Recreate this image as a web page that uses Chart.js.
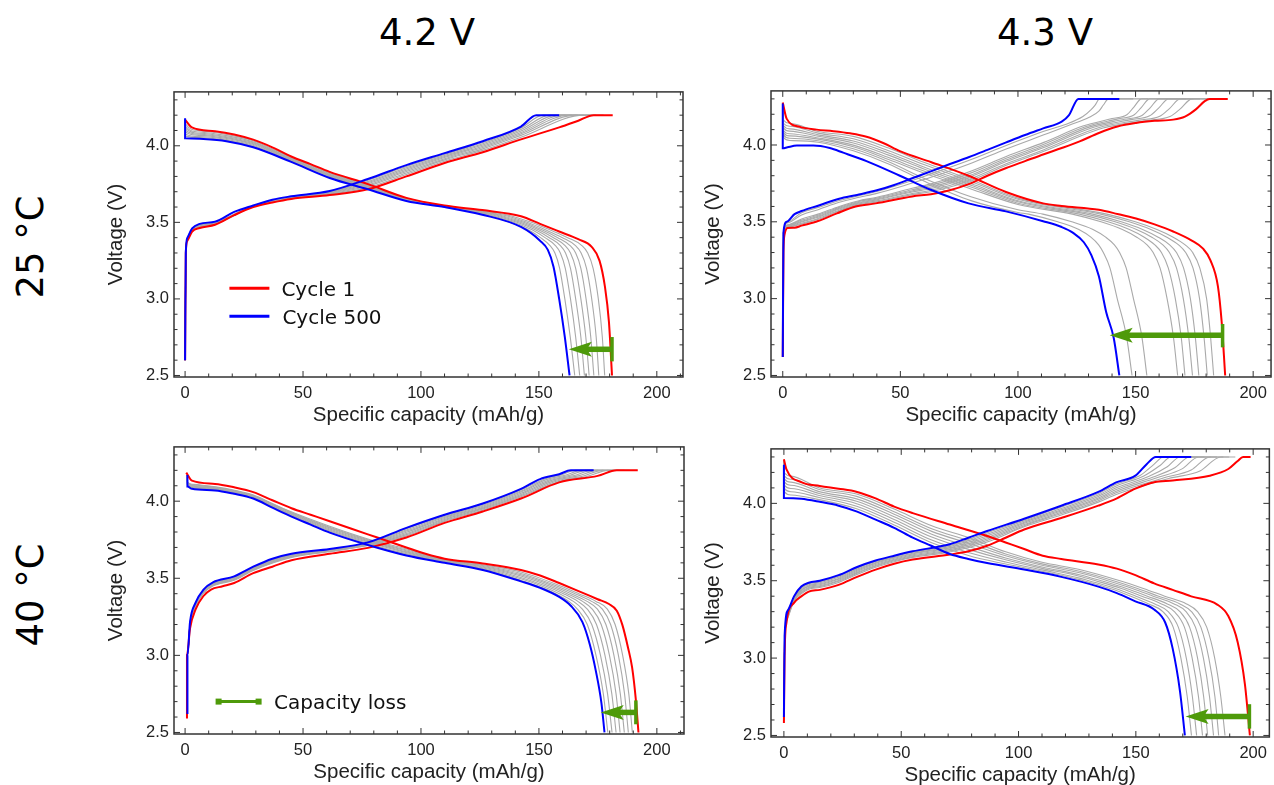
<!DOCTYPE html>
<html>
<head>
<meta charset="utf-8">
<title>Charge / discharge curves</title>
<script src="https://cdn.jsdelivr.net/npm/chart.js@4.4.1/dist/chart.umd.min.js"></script>
<style>
  body { margin: 0; background: #fff; }
  #page { position: relative; width: 1274px; height: 785px; overflow: hidden; background: #fff; }
  #page canvas { position: absolute; }
  .head, .side {
    position: absolute;
    font-family: "DejaVu Sans", sans-serif;
    font-size: 37px;
    line-height: 37px;
    color: #000;
    white-space: nowrap;
  }
  .head { transform: translateX(-50%); }
  .side { transform: translate(-50%, -50%) rotate(-90deg); }
</style>
</head>
<body>
<div id="page">
  <div class="head" style="left:427px; top:14px">4.2 V</div>
  <div class="head" style="left:1045px; top:14px">4.3 V</div>
  <div class="side" style="left:30px; top:247px">25 °C</div>
  <div class="side" style="left:30px; top:595px">40 °C</div>
  <canvas id="p1" width="581" height="351" style="left:104px; top:77px"></canvas>
  <canvas id="p2" width="573" height="352" style="left:701px; top:76px"></canvas>
  <canvas id="p3" width="582" height="353" style="left:104px; top:432px"></canvas>
  <canvas id="p4" width="573" height="354" style="left:701px; top:434px"></canvas>
</div>
<script>
// ---- axes ----
const xTickValues = [0, 50, 100, 150, 200];
const yTickValues = [2.5, 3.0, 3.5, 4.0];
const xMin = [-4.7, -5, -4.7, -5.5];
const xMax = [211.1, 207.6, 211.5, 206.9];
const yMin = 2.49;
const yMax = 4.352;

// ---- capacity loss arrows (mAh/g, V) ----
const lossFrom = [181, 187, 191.1, 198.4];
const lossTo = [162.7, 139, 176.2, 171.2];
const lossV = [2.671, 2.761, 2.63, 2.623];
const lossBarLo = [2.592, 2.683, 2.553, 2.544];
const lossBarHi = [2.751, 2.835, 2.708, 2.702];

// ---- panel 1 : 25 °C, 4.2 V  ([capacity, voltage]) ----
const p1_dis1 = [[0,4.17],[2.9,4.12],[12.7,4.095],[20.8,4.074],[28.9,4.04],[37,3.99],[45,3.93],[53.2,3.88],[61.3,3.83],[77.5,3.75],[93.8,3.66],[110,3.61],[126,3.58],[142.4,3.54],[150.5,3.49],[158.6,3.44],[166.7,3.39],[172.4,3.34],[175.7,3.25],[178,3.08],[179.7,2.85],[181,2.5]];
const p1_dis500 = [[0,4.18],[0,4.05],[6.2,4.046],[17.5,4.03],[28.9,3.99],[45,3.895],[61.3,3.79],[77.5,3.716],[93.8,3.64],[110,3.6],[126,3.55],[142.4,3.47],[150.5,3.38],[153.8,3.32],[156.2,3.21],[158.6,3.0],[161,2.75],[163,2.5]];
const p1_chg1 = [[0,2.6],[0.3,3.3],[1,3.38],[3,3.44],[6.2,3.463],[12.7,3.484],[20.8,3.547],[28.9,3.6],[37,3.63],[45,3.653],[61.3,3.678],[77.5,3.716],[93.8,3.8],[110,3.888],[126.2,3.958],[142.4,4.042],[158.6,4.12],[166.7,4.164],[173.2,4.2],[181.3,4.2]];
const p1_chg500 = [[0,2.6],[0.3,3.3],[1,3.4],[3,3.46],[6.2,3.49],[12.7,3.505],[20.8,3.568],[28.9,3.61],[37,3.648],[45,3.67],[61.3,3.705],[77.5,3.783],[93.8,3.874],[110,3.952],[126.2,4.03],[142.4,4.126],[148.9,4.2],[158.6,4.2]];
const p1_disMid = [
  [[0,4.17],[0.3,4.063],[6,4.054],[17,4.037],[29,3.996],[45,3.899],[61,3.797],[77.5,3.72],[94,3.642],[110,3.601],[127.4,3.55],[137.7,3.5],[145.7,3.45],[150.7,3.4],[154.6,3.35],[156.8,3.3],[158.8,3.2],[161,3.0],[163.3,2.75],[165.2,2.5]],
  [[0,4.17],[0.3,4.076],[6,4.061],[17,4.043],[29,4.002],[45,3.903],[61,3.802],[77.5,3.724],[94,3.645],[110,3.602],[128.9,3.55],[139.3,3.5],[147.3,3.45],[152.6,3.4],[156.9,3.35],[159.1,3.3],[161.2,3.2],[163.4,3.0],[165.6,2.75],[167.3,2.5]],
  [[0,4.17],[0.3,4.089],[6,4.068],[17,4.049],[29,4.008],[45,3.907],[61,3.806],[77.5,3.728],[94,3.647],[110,3.604],[130.2,3.55],[140.7,3.5],[148.7,3.45],[154.4,3.4],[159,3.35],[161.3,3.3],[163.4,3.2],[165.6,3.0],[167.8,2.75],[169.3,2.5]],
  [[0,4.17],[0.3,4.101],[6,4.075],[17,4.055],[29,4.013],[45,3.911],[61,3.81],[77.5,3.732],[94,3.649],[110,3.605],[131.5,3.55],[142.1,3.5],[150.1,3.45],[156.2,3.4],[161,3.35],[163.4,3.3],[165.6,3.2],[167.8,3.0],[169.9,2.75],[171.3,2.5]],
  [[0,4.17],[0.3,4.113],[6,4.082],[17,4.061],[29,4.019],[45,3.915],[61,3.815],[77.5,3.735],[94,3.651],[110,3.606],[132.8,3.55],[143.5,3.5],[151.5,3.45],[158,3.4],[163.1,3.35],[165.6,3.3],[167.8,3.2],[170,3.0],[172,2.75],[173.3,2.5]],
  [[0,4.17],[0.3,4.126],[6,4.09],[17,4.068],[29,4.025],[45,3.919],[61,3.82],[77.5,3.739],[94,3.654],[110,3.607],[134.3,3.55],[145,3.5],[153,3.45],[160,3.4],[165.4,3.35],[167.9,3.3],[170.2,3.2],[172.4,3.0],[174.3,2.75],[175.4,2.5]],
  [[0,4.17],[0.3,4.141],[6,4.099],[17,4.076],[29,4.032],[45,3.924],[61,3.825],[77.5,3.744],[94,3.657],[110,3.608],[136,3.55],[146.8,3.5],[154.8,3.45],[162.2,3.4],[168.1,3.35],[170.7,3.3],[173,3.2],[175.2,3.0],[176.9,2.75],[177.9,2.5]]
];
const p1_chgMid = [
  [[0,2.6],[0.3,3.3],[1,3.398],[3,3.458],[12.7,3.502],[28.9,3.609],[45,3.668],[61.3,3.702],[77.5,3.775],[93.8,3.865],[110,3.944],[126.2,4.021],[142.4,4.116],[151.8,4.2],[161.3,4.2]],
  [[0,2.6],[0.3,3.3],[1,3.395],[3,3.455],[12.7,3.5],[28.9,3.608],[45,3.666],[61.3,3.699],[77.5,3.767],[93.8,3.856],[110,3.937],[126.2,4.013],[142.4,4.106],[154.7,4.2],[164,4.2]],
  [[0,2.6],[0.3,3.3],[1,3.393],[3,3.453],[12.7,3.498],[28.9,3.607],[45,3.664],[61.3,3.696],[77.5,3.76],[93.8,3.848],[110,3.93],[126.2,4.005],[142.4,4.097],[157.4,4.2],[166.5,4.2]],
  [[0,2.6],[0.3,3.3],[1,3.391],[3,3.451],[12.7,3.495],[28.9,3.605],[45,3.662],[61.3,3.693],[77.5,3.752],[93.8,3.84],[110,3.923],[126.2,3.997],[142.4,4.087],[160.1,4.2],[169,4.2]],
  [[0,2.6],[0.3,3.3],[1,3.389],[3,3.449],[12.7,3.493],[28.9,3.604],[45,3.66],[61.3,3.69],[77.5,3.745],[93.8,3.832],[110,3.916],[126.2,3.989],[142.4,4.078],[162.8,4.2],[171.5,4.2]],
  [[0,2.6],[0.3,3.3],[1,3.387],[3,3.446],[12.7,3.491],[28.9,3.603],[45,3.658],[61.3,3.686],[77.5,3.737],[93.8,3.823],[110,3.908],[126.2,3.98],[142.4,4.068],[165.7,4.2],[174.3,4.2]],
  [[0,2.6],[0.3,3.3],[1,3.385],[3,3.443],[12.7,3.488],[28.9,3.602],[45,3.656],[61.3,3.683],[77.5,3.727],[93.8,3.813],[110,3.899],[126.2,3.97],[142.4,4.056],[169.1,4.2],[177.4,4.2]]
];

// ---- panel 2 : 25 °C, 4.3 V ----
const p2_dis1 = [[0,4.276],[1.7,4.17],[7.3,4.118],[14.4,4.1],[21.5,4.09],[28.6,4.076],[35.6,4.054],[42.7,4.013],[49.8,3.96],[63.2,3.888],[79,3.8],[94.9,3.694],[110.7,3.62],[118.6,3.603],[134.4,3.578],[142.3,3.551],[150.2,3.521],[158.1,3.483],[166,3.437],[173.9,3.378],[178.7,3.325],[181.8,3.251],[185,3.082],[186.6,2.85],[188.1,2.5]];
const p2_dis500 = [[0,4.27],[0,3.978],[2,3.985],[6,3.996],[13,3.996],[20,3.98],[25.7,3.95],[35.6,3.895],[49.8,3.8],[63.2,3.707],[79,3.62],[94.9,3.568],[110.7,3.504],[118.6,3.466],[123.3,3.43],[128,3.367],[131.2,3.283],[134.4,3.146],[137.5,2.913],[140.7,2.745],[143.1,2.5]];
const p2_chg1 = [[0,2.62],[0.3,3.3],[0.8,3.42],[2,3.46],[5,3.462],[8,3.475],[15,3.505],[23,3.555],[31,3.6],[39.5,3.62],[55,3.665],[63,3.68],[71,3.705],[79,3.745],[87,3.8],[95,3.85],[103,3.895],[111,3.94],[118.6,3.98],[126.5,4.025],[134.4,4.078],[142.3,4.12],[150.2,4.143],[158.1,4.157],[166,4.165],[171,4.185],[175.5,4.23],[179.4,4.285],[181.5,4.3],[189.2,4.3]];
const p2_chg500 = [[0,2.62],[0.3,3.43],[1.7,3.5],[5,3.55],[8,3.57],[15,3.605],[24,3.65],[31.6,3.675],[40,3.705],[47.4,3.74],[55.3,3.785],[63.2,3.83],[71.1,3.876],[79,3.92],[87,3.968],[95,4.017],[103,4.065],[110.7,4.108],[118.6,4.152],[121.7,4.195],[125.7,4.3],[143.1,4.3]];
const p2_disMid = [
  [[0,4.27],[0.4,4.16],[3,4.141],[15,4.088],[30,4.056],[45,3.98],[60,3.887],[80,3.774],[100,3.654],[137.8,3.55],[149.9,3.5],[159.1,3.45],[166,3.4],[171.1,3.35],[174.3,3.3],[177.3,3.2],[180.2,3.0],[181.9,2.75],[183.2,2.5]],
  [[0,4.27],[0.4,4.14],[3,4.122],[15,4.077],[30,4.04],[45,3.963],[60,3.873],[80,3.763],[100,3.647],[135.2,3.55],[147.3,3.5],[156.5,3.45],[163.3,3.4],[168.3,3.35],[171.3,3.3],[174.4,3.2],[177.2,3.0],[179.1,2.75],[180.5,2.5]],
  [[0,4.27],[0.4,4.125],[3,4.105],[15,4.066],[30,4.026],[45,3.948],[60,3.857],[80,3.749],[100,3.637],[131.8,3.55],[143.9,3.5],[153,3.45],[159.6,3.4],[164.5,3.35],[167.4,3.3],[170.4,3.2],[173.3,3.0],[175.4,2.75],[176.9,2.5]],
  [[0,4.27],[0.4,4.11],[3,4.09],[15,4.057],[30,4.013],[45,3.934],[60,3.844],[80,3.738],[100,3.63],[129.2,3.55],[141.3,3.5],[150.4,3.45],[156.9,3.4],[161.6,3.35],[164.4,3.3],[167.4,3.2],[170.3,3.0],[172.6,2.75],[174.2,2.5]],
  [[0,4.27],[0.4,4.093],[3,4.073],[15,4.046],[30,3.999],[45,3.918],[60,3.83],[80,3.726],[100,3.621],[126.1,3.55],[138.3,3.5],[147.4,3.45],[153.7,3.4],[158.2,3.35],[161,3.3],[163.9,3.2],[166.9,3.0],[169.4,2.75],[171,2.5]],
  [[0,4.27],[0.4,4.079],[3,4.059],[15,4.038],[30,3.988],[45,3.906],[60,3.817],[80,3.714],[100,3.613],[123.1,3.55],[135.3,3.5],[144.4,3.45],[150.5,3.4],[154.9,3.35],[157.5,3.3],[160.4,3.2],[163.4,3.0],[166.1,2.75],[167.9,2.5]],
  [[0,4.27],[0.4,4.064],[3,4.044],[15,4.028],[30,3.975],[45,3.891],[60,3.784],[80,3.663],[100,3.578],[110.6,3.55],[122.9,3.5],[131.9,3.45],[137.3,3.4],[141,3.35],[143.2,3.3],[146,3.2],[149.1,3.0],[152.7,2.75],[154.8,2.5]],
  [[0,4.27],[0.4,4.049],[3,4.029],[15,4.018],[30,3.962],[45,3.877],[60,3.765],[80,3.638],[100,3.561],[104.5,3.55],[116.9,3.5],[125.9,3.45],[131,3.4],[134.3,3.35],[136.3,3.3],[139.1,3.2],[142.2,3.0],[146.2,2.75],[148.5,2.5]]
];
const p2_chgMid = [
  [[0,2.62],[0.3,3.43],[2,3.465],[8,3.485],[15,3.516],[24,3.57],[32,3.61],[40,3.63],[55,3.677],[63,3.696],[79,3.764],[95,3.868],[111,3.959],[136.2,4.11],[155.1,4.16],[164.6,4.185],[169,4.235],[174,4.3],[183.7,4.3]],
  [[0,2.62],[0.3,3.43],[2,3.468],[8,3.491],[15,3.522],[24,3.575],[32,3.615],[40,3.636],[55,3.684],[63,3.705],[79,3.775],[95,3.878],[111,3.969],[134.2,4.112],[151.6,4.162],[160.3,4.187],[164.4,4.237],[169,4.3],[181,4.3]],
  [[0,2.62],[0.3,3.43],[2,3.471],[8,3.499],[15,3.53],[24,3.583],[32,3.621],[40,3.643],[55,3.694],[63,3.717],[79,3.789],[95,3.892],[111,3.983],[132.2,4.115],[148.1,4.165],[156,4.19],[159.8,4.24],[164,4.3],[177.4,4.3]],
  [[0,2.62],[0.3,3.43],[2,3.474],[8,3.504],[15,3.536],[24,3.588],[32,3.625],[40,3.648],[55,3.701],[63,3.726],[79,3.799],[95,3.902],[111,3.993],[130.6,4.118],[145.3,4.167],[152.7,4.192],[156.1,4.24],[160,4.3],[174.7,4.3]],
  [[0,2.62],[0.3,3.43],[2,3.477],[8,3.511],[15,3.543],[24,3.594],[32,3.631],[40,3.654],[55,3.709],[63,3.737],[79,3.812],[95,3.913],[111,4.005],[129,4.12],[142.5,4.17],[149.3,4.195],[152.4,4.243],[156,4.3],[171.5,4.3]],
  [[0,2.62],[0.3,3.43],[2,3.48],[8,3.518],[15,3.55],[24,3.6],[32,3.636],[40,3.66],[55,3.718],[63,3.747],[79,3.824],[95,3.925],[111,4.017],[127.6,4.123],[140,4.172],[146.3,4.197],[149.2,4.245],[152.5,4.3],[168.4,4.3]],
  [[0,2.62],[0.3,3.43],[2,3.493],[8,3.545],[15,3.579],[24,3.627],[32,3.658],[40,3.685],[55,3.752],[63,3.79],[79,3.875],[95,3.974],[111,4.066],[122,4.13],[130.3,4.18],[134.4,4.22],[136.3,4.26],[138.5,4.3],[155.3,4.3]],
  [[0,2.62],[0.3,3.43],[2,3.5],[8,3.559],[15,3.593],[24,3.639],[32,3.668],[40,3.697],[55,3.769],[63,3.811],[79,3.899],[95,3.997],[111,4.09],[120.5,4.135],[127.6,4.185],[131.1,4.23],[132.8,4.26],[134.7,4.3],[149,4.3]]
];

// ---- panel 3 : 40 °C, 4.2 V ----
const p3_dis1 = [[0.5,4.185],[2.9,4.133],[12.7,4.112],[20.8,4.09],[28.9,4.059],[37,4.006],[45.1,3.954],[53.2,3.912],[61.3,3.87],[77.5,3.785],[93.8,3.7],[101.9,3.659],[110,3.627],[126.2,3.596],[142.4,3.554],[150.5,3.518],[158.6,3.469],[166.8,3.417],[174.9,3.364],[179.7,3.333],[183,3.29],[185.4,3.196],[187.8,3.048],[189.5,2.922],[191.1,2.71],[192.2,2.5]];
const p3_dis500 = [[1,4.17],[1,4.095],[2.9,4.08],[12.7,4.07],[20.8,4.048],[28.9,4.017],[37,3.958],[45.1,3.9],[53.2,3.848],[61.3,3.796],[77.5,3.716],[93.8,3.648],[110,3.6],[126.2,3.554],[142.4,3.48],[150.5,3.438],[158.6,3.379],[163.5,3.322],[168.4,3.217],[171.6,3.069],[174.1,2.901],[176.5,2.69],[177.8,2.5]];
const p3_chg1 = [[0.8,2.59],[0.8,3.0],[2.1,3.175],[4.5,3.3],[7.8,3.385],[11,3.427],[15.9,3.448],[20.8,3.469],[28.9,3.533],[37,3.575],[45.1,3.617],[61.3,3.659],[77.5,3.697],[93.8,3.764],[110,3.859],[126.2,3.933],[142.4,4.017],[158.6,4.122],[174.9,4.164],[183,4.2],[191.9,4.2]];
const p3_chg500 = [[1,2.62],[1,3.0],[2.1,3.217],[4.5,3.343],[7.8,3.427],[11.8,3.474],[20.8,3.512],[28.9,3.575],[37,3.627],[45.1,3.659],[61.3,3.69],[77.5,3.733],[93.8,3.827],[110,3.912],[126.2,3.985],[142.4,4.08],[150.5,4.143],[158.6,4.175],[163.5,4.2],[173.2,4.2]];
const p3_disMid = [
  [[0.8,4.17],[1,4.099],[3,4.084],[13,4.073],[21,4.05],[29,4.019],[37,3.961],[45,3.904],[61,3.802],[77.5,3.721],[94,3.652],[110,3.603],[126,3.558],[142,3.489],[149.5,3.45],[157.1,3.4],[162.7,3.35],[166.3,3.3],[170.5,3.2],[174.2,3.0],[177.3,2.75],[179.2,2.5]],
  [[0.8,4.17],[1,4.103],[3,4.088],[13,4.076],[21,4.053],[29,4.022],[37,3.965],[45,3.908],[61,3.808],[77.5,3.726],[94,3.658],[110,3.606],[126,3.563],[142,3.498],[151.1,3.45],[158.7,3.4],[164.6,3.35],[168.4,3.3],[172.4,3.2],[176.1,3.0],[179.1,2.75],[181,2.5]],
  [[0.8,4.17],[1,4.108],[3,4.093],[13,4.08],[21,4.057],[29,4.026],[37,3.97],[45,3.913],[61,3.815],[77.5,3.733],[94,3.665],[110,3.609],[126,3.568],[142,3.507],[152.8,3.45],[160.4,3.4],[166.5,3.35],[170.5,3.3],[174.4,3.2],[178,3.0],[180.9,2.75],[182.7,2.5]],
  [[0.8,4.17],[1,4.112],[3,4.097],[13,4.083],[21,4.06],[29,4.029],[37,3.973],[45,3.918],[61,3.821],[77.5,3.738],[94,3.671],[110,3.612],[126,3.573],[142,3.516],[154.4,3.45],[162,3.4],[168.5,3.35],[172.6,3.3],[176.4,3.2],[179.9,3.0],[182.7,2.75],[184.4,2.5]],
  [[0.8,4.17],[1,4.117],[3,4.102],[13,4.087],[21,4.064],[29,4.033],[37,3.978],[45,3.923],[61,3.827],[77.5,3.744],[94,3.677],[110,3.616],[126,3.578],[142,3.524],[156,3.45],[163.6,3.4],[170.4,3.35],[174.8,3.3],[178.4,3.2],[181.8,3.0],[184.5,2.75],[186.2,2.5]],
  [[0.8,4.17],[1,4.121],[3,4.106],[13,4.09],[21,4.068],[29,4.037],[37,3.982],[45,3.927],[61,3.833],[77.5,3.75],[94,3.683],[110,3.619],[126,3.583],[142,3.533],[157.6,3.45],[165.3,3.4],[172.3,3.35],[176.9,3.3],[180.4,3.2],[183.7,3.0],[186.3,2.75],[187.9,2.5]],
  [[0.8,4.17],[1,4.125],[3,4.11],[13,4.093],[21,4.071],[29,4.04],[37,3.985],[45,3.931],[61,3.839],[77.5,3.755],[94,3.69],[110,3.622],[126,3.588],[142,3.542],[159.2,3.45],[166.9,3.4],[174.2,3.35],[179,3.3],[182.3,3.2],[185.5,3.0],[188.1,2.75],[189.6,2.5]]
];
const p3_chgMid = [
  [[1,2.62],[1,3.0],[2.1,3.214],[4.5,3.34],[7.8,3.424],[11.4,3.467],[20.8,3.509],[28.9,3.572],[45.1,3.656],[61.3,3.688],[77.5,3.73],[93.8,3.821],[110,3.907],[126.2,3.98],[142.4,4.074],[152.8,4.146],[159.7,4.172],[165.5,4.2],[175.1,4.2]],
  [[1,2.62],[1,3.0],[2.1,3.211],[4.5,3.337],[7.8,3.421],[11.4,3.464],[20.8,3.506],[28.9,3.569],[45.1,3.653],[61.3,3.685],[77.5,3.728],[93.8,3.813],[110,3.9],[126.2,3.974],[142.4,4.066],[153.8,4.143],[161.5,4.17],[167.8,4.2],[177.3,4.2]],
  [[1,2.62],[1,3.0],[2.1,3.207],[4.5,3.333],[7.8,3.417],[11.4,3.46],[20.8,3.502],[28.9,3.565],[45.1,3.649],[61.3,3.683],[77.5,3.724],[93.8,3.806],[110,3.894],[126.2,3.967],[142.4,4.059],[154.9,4.141],[163.2,4.168],[170.1,4.2],[179.6,4.2]],
  [[1,2.62],[1,3.0],[2.1,3.204],[4.5,3.329],[7.8,3.414],[11.4,3.457],[20.8,3.498],[28.9,3.562],[45.1,3.646],[61.3,3.68],[77.5,3.721],[93.8,3.798],[110,3.888],[126.2,3.961],[142.4,4.051],[155.9,4.138],[165,4.166],[172.5,4.2],[181.8,4.2]],
  [[1,2.62],[1,3.0],[2.1,3.2],[4.5,3.325],[7.8,3.41],[11.4,3.454],[20.8,3.494],[28.9,3.558],[45.1,3.642],[61.3,3.677],[77.5,3.718],[93.8,3.79],[110,3.881],[126.2,3.955],[142.4,4.043],[157,4.135],[166.7,4.164],[174.8,4.2],[184,4.2]],
  [[1,2.62],[1,3.0],[2.1,3.196],[4.5,3.322],[7.8,3.406],[11.4,3.45],[20.8,3.491],[28.9,3.554],[45.1,3.638],[61.3,3.675],[77.5,3.715],[93.8,3.783],[110,3.875],[126.2,3.949],[142.4,4.036],[158.1,4.133],[168.5,4.162],[177.2,4.2],[186.3,4.2]],
  [[1,2.62],[1,3.0],[2.1,3.193],[4.5,3.318],[7.8,3.403],[11.4,3.447],[20.8,3.487],[28.9,3.551],[45.1,3.635],[61.3,3.672],[77.5,3.712],[93.8,3.775],[110,3.869],[126.2,3.942],[142.4,4.028],[159.1,4.13],[170.2,4.16],[179.5,4.2],[188.5,4.2]]
];

// ---- panel 4 : 40 °C, 4.3 V ----
const p4_dis1 = [[0,4.285],[1.1,4.22],[7.4,4.137],[15.3,4.112],[23.3,4.095],[31.2,4.074],[39.1,4.032],[47,3.979],[54.9,3.937],[70.7,3.863],[86.6,3.789],[94.5,3.747],[102.4,3.705],[110.3,3.662],[118.2,3.641],[134,3.605],[141.9,3.578],[149.8,3.536],[157.8,3.483],[165.7,3.441],[173.6,3.399],[184.7,3.346],[189.4,3.272],[193.4,3.103],[196.5,2.829],[198.6,2.5]];
const p4_dis500 = [[0,4.25],[0,4.035],[7.4,4.03],[15.3,4.01],[23.3,3.985],[31.2,3.947],[39.1,3.895],[47,3.842],[54.9,3.778],[62.8,3.726],[70.7,3.673],[78.6,3.641],[86.6,3.614],[102.4,3.572],[118.2,3.525],[134,3.462],[141.9,3.42],[149.8,3.367],[157.8,3.314],[162.5,3.23],[165.7,3.061],[168.8,2.787],[170.9,2.5]];
const p4_chg1 = [[0,2.58],[0.3,3.02],[1.1,3.23],[4.3,3.357],[7.4,3.399],[10.6,3.43],[15.3,3.441],[23.3,3.473],[31.2,3.525],[39.1,3.572],[47,3.61],[54.9,3.637],[70.7,3.669],[78.6,3.69],[86.6,3.726],[94.5,3.778],[102.4,3.831],[118.2,3.905],[134,3.985],[141.9,4.032],[149.8,4.095],[157.8,4.137],[165.7,4.148],[181.5,4.179],[189.4,4.222],[193.4,4.274],[195.7,4.3],[198.9,4.3]];
const p4_chg500 = [[0,2.62],[0.3,3.146],[1.9,3.314],[4.3,3.399],[7.4,3.462],[10.6,3.487],[15.3,3.5],[23.3,3.536],[31.2,3.589],[39.1,3.631],[47,3.662],[54.9,3.69],[70.7,3.736],[78.6,3.778],[86.6,3.821],[102.4,3.901],[118.2,3.985],[134,4.074],[141.9,4.137],[149.8,4.179],[154.6,4.253],[158.5,4.3],[173.6,4.3]];
const p4_disMid = [
  [[0,4.28],[0.3,4.074],[3,4.054],[15,4.024],[31,3.965],[47,3.86],[63,3.745],[79,3.661],[94.5,3.608],[110,3.561],[126,3.507],[127.6,3.5],[139.1,3.45],[147.8,3.4],[155.5,3.35],[161.5,3.3],[165.9,3.2],[169.2,3.0],[171.9,2.75],[173.7,2.5]],
  [[0,4.28],[0.3,4.095],[3,4.075],[15,4.038],[31,3.981],[47,3.878],[63,3.763],[79,3.681],[94.5,3.621],[110,3.57],[126,3.517],[130,3.5],[141.3,3.45],[150,3.4],[158.1,3.35],[163.8,3.3],[168.1,3.2],[171.5,3.0],[174.1,2.75],[175.9,2.5]],
  [[0,4.28],[0.3,4.116],[3,4.096],[15,4.051],[31,3.998],[47,3.895],[63,3.782],[79,3.701],[94.5,3.635],[110,3.58],[126,3.529],[132.8,3.5],[143.8,3.45],[152.6,3.4],[160.9,3.35],[166.4,3.3],[170.7,3.2],[174,3.0],[176.7,2.75],[178.4,2.5]],
  [[0,4.28],[0.3,4.137],[3,4.117],[15,4.064],[31,4.014],[47,3.913],[63,3.801],[79,3.72],[94.5,3.647],[110,3.589],[126,3.539],[135.2,3.5],[146,3.45],[154.9,3.4],[163.4,3.35],[168.8,3.3],[172.9,3.2],[176.3,3.0],[178.9,2.75],[180.6,2.5]],
  [[0,4.28],[0.3,4.157],[3,4.137],[15,4.076],[31,4.029],[47,3.93],[63,3.819],[79,3.74],[94.5,3.661],[110,3.6],[126,3.551],[138,3.5],[148.5,3.45],[157.4,3.4],[166.3,3.35],[171.4,3.3],[175.4,3.2],[178.8,3.0],[181.4,2.75],[183.1,2.5]],
  [[0,4.28],[0.3,4.176],[3,4.156],[15,4.089],[31,4.045],[47,3.946],[63,3.836],[79,3.758],[94.5,3.673],[110,3.609],[126,3.561],[140.5,3.5],[150.7,3.45],[159.7,3.4],[168.8,3.35],[173.7,3.3],[177.7,3.2],[181.1,3.0],[183.7,2.75],[185.3,2.5]],
  [[0,4.28],[0.3,4.196],[3,4.176],[15,4.101],[31,4.06],[47,3.963],[63,3.855],[79,3.778],[94.5,3.687],[110,3.619],[126,3.573],[143.2,3.5],[153.2,3.45],[162.3,3.4],[171.6,3.35],[176.3,3.3],[180.2,3.2],[183.6,3.0],[186.2,2.75],[188,2.5]]
];
const p4_chgMid = [
  [[0,2.6],[0.3,3.1],[1.5,3.284],[4.3,3.394],[7.4,3.455],[10.6,3.48],[15.3,3.493],[23.3,3.529],[31.2,3.582],[39.1,3.624],[47,3.656],[54.9,3.684],[70.7,3.728],[86.6,3.81],[102.4,3.893],[118.2,3.976],[134,4.064],[141.9,4.125],[151.8,4.18],[157.7,4.252],[161.7,4.3],[176.5,4.3]],
  [[0,2.6],[0.3,3.1],[1.5,3.279],[4.3,3.39],[7.4,3.448],[10.6,3.474],[15.3,3.487],[23.3,3.522],[31.2,3.575],[39.1,3.618],[47,3.651],[54.9,3.678],[70.7,3.721],[86.6,3.8],[102.4,3.886],[118.2,3.967],[134,4.054],[141.9,4.114],[153.4,4.177],[160.3,4.245],[164.9,4.3],[179.2,4.3]],
  [[0,2.6],[0.3,3.1],[1.5,3.274],[4.3,3.385],[7.4,3.441],[10.6,3.468],[15.3,3.481],[23.3,3.515],[31.2,3.568],[39.1,3.612],[47,3.645],[54.9,3.673],[70.7,3.714],[86.6,3.79],[102.4,3.878],[118.2,3.959],[134,4.045],[141.9,4.102],[155.4,4.173],[163.4,4.237],[168.8,4.3],[181.9,4.3]],
  [[0,2.6],[0.3,3.1],[1.5,3.268],[4.3,3.381],[7.4,3.435],[10.6,3.462],[15.3,3.474],[23.3,3.509],[31.2,3.561],[39.1,3.605],[47,3.639],[54.9,3.667],[70.7,3.707],[86.6,3.78],[102.4,3.871],[118.2,3.95],[134,4.035],[141.9,4.091],[157.4,4.17],[166.6,4.23],[172.8,4.3],[184.6,4.3]],
  [[0,2.6],[0.3,3.1],[1.5,3.263],[4.3,3.376],[7.4,3.428],[10.6,3.456],[15.3,3.468],[23.3,3.502],[31.2,3.554],[39.1,3.599],[47,3.634],[54.9,3.661],[70.7,3.7],[86.6,3.77],[102.4,3.863],[118.2,3.942],[134,4.026],[141.9,4.08],[159.3,4.167],[169.7,4.223],[176.7,4.3],[187.3,4.3]],
  [[0,2.6],[0.3,3.1],[1.5,3.258],[4.3,3.372],[7.4,3.422],[10.6,3.451],[15.3,3.462],[23.3,3.496],[31.2,3.548],[39.1,3.593],[47,3.629],[54.9,3.656],[70.7,3.693],[86.6,3.76],[102.4,3.856],[118.2,3.934],[134,4.017],[141.9,4.07],[161.7,4.164],[173.6,4.216],[181.5,4.3],[189.8,4.3]],
  [[0,2.6],[0.3,3.1],[1.5,3.253],[4.3,3.368],[7.4,3.415],[10.6,3.445],[15.3,3.456],[23.3,3.489],[31.2,3.541],[39.1,3.587],[47,3.623],[54.9,3.651],[70.7,3.686],[86.6,3.75],[102.4,3.849],[118.2,3.925],[134,4.008],[141.9,4.059],[164,4.161],[177.3,4.209],[186.2,4.3],[192.4,4.3]]
];

const RED = '#ff0000';
const BLUE = '#0000ff';
const GRAY = '#a9a9a9';
const GREEN = '#4e9a0a';
const INK = '#222222';
const SANS = "'Liberation Sans', Arial, sans-serif";
const LEGEND_FONT = "20px 'DejaVu Sans', Verdana, sans-serif";

function curve(points, color, width) {
  return {
    data: points,
    borderColor: color,
    borderWidth: width,
    pointRadius: 0,
    fill: false,
    cubicInterpolationMode: 'monotone'
  };
}

// frame with inward ticks, the capacity loss arrow and the in-plot legends
function decor(i) {
  return {
    id: 'decor' + i,
    afterDatasetsDraw(chart) {
      const ctx = chart.ctx;
      const a = chart.chartArea;
      const x = chart.scales.x;
      const y = chart.scales.y;
      ctx.save();

      ctx.strokeStyle = '#333';
      ctx.lineWidth = 1.5;
      ctx.strokeRect(a.left, a.top, a.right - a.left, a.bottom - a.top);
      ctx.lineWidth = 1;
      ctx.beginPath();
      for (let k = 0; k <= 21; k++) {
        const px = x.getPixelForValue(k * 10);
        if (px > a.right - 1) continue;
        const len = k % 5 === 0 ? 6 : 3.5;
        ctx.moveTo(px, a.bottom); ctx.lineTo(px, a.bottom - len);
        ctx.moveTo(px, a.top); ctx.lineTo(px, a.top + len);
      }
      for (let k = 25; k <= 43; k++) {
        const py = y.getPixelForValue(k / 10);
        const len = k % 5 === 0 ? 6 : 3.5;
        ctx.moveTo(a.left, py); ctx.lineTo(a.left + len, py);
        ctx.moveTo(a.right, py); ctx.lineTo(a.right - len, py);
      }
      ctx.stroke();

      // capacity loss arrow: from cycle 1 back to cycle 500
      const ya = y.getPixelForValue(lossV[i]);
      const xs = x.getPixelForValue(lossFrom[i]);
      const xe = x.getPixelForValue(lossTo[i]);
      ctx.strokeStyle = GREEN;
      ctx.fillStyle = GREEN;
      ctx.lineWidth = 3.5;
      ctx.beginPath();
      ctx.moveTo(xs, y.getPixelForValue(lossBarLo[i]));
      ctx.lineTo(xs, y.getPixelForValue(lossBarHi[i]));
      ctx.stroke();
      ctx.lineWidth = 5.5;
      ctx.beginPath();
      ctx.moveTo(xs, ya);
      ctx.lineTo(xe + 16, ya);
      ctx.stroke();
      ctx.beginPath();
      ctx.moveTo(xe, ya);
      ctx.lineTo(xe + 23, ya - 7.5);
      ctx.lineTo(xe + 18, ya);
      ctx.lineTo(xe + 23, ya + 7.5);
      ctx.closePath();
      ctx.fill();

      ctx.font = LEGEND_FONT;
      ctx.fillStyle = '#111';
      ctx.textBaseline = 'alphabetic';
      if (i === 0) {
        const lx = a.left + 55.4, ly = a.top + 196.3;
        ctx.lineWidth = 3;
        ctx.strokeStyle = RED;
        ctx.beginPath(); ctx.moveTo(lx, ly); ctx.lineTo(lx + 40, ly); ctx.stroke();
        ctx.strokeStyle = BLUE;
        ctx.beginPath(); ctx.moveTo(lx, ly + 28); ctx.lineTo(lx + 40, ly + 28); ctx.stroke();
        ctx.fillText('Cycle 1', lx + 52, ly + 7.4);
        ctx.fillText('Cycle 500', lx + 53, ly + 28 + 7.4);
      }
      if (i === 2) {
        const lx = a.left + 44.6, ly = a.top + 254.7;
        ctx.lineWidth = 3;
        ctx.strokeStyle = GREEN;
        ctx.fillStyle = GREEN;
        ctx.beginPath(); ctx.moveTo(lx, ly); ctx.lineTo(lx + 40, ly); ctx.stroke();
        ctx.fillRect(lx - 3, ly - 3, 6, 6);
        ctx.fillRect(lx + 37, ly - 3, 6, 6);
        ctx.fillStyle = '#111';
        ctx.fillText('Capacity loss', lx + 55.4, ly + 7.3);
      }
      ctx.restore();
    }
  };
}

function makePanel(i, canvasId, dis1, chg1, dis500, chg500, disMid, chgMid) {
  const datasets = [
    curve(dis500, BLUE, 2),
    curve(chg500, BLUE, 2),
    curve(dis1, RED, 2),
    curve(chg1, RED, 2)
  ];
  disMid.forEach(c => datasets.push(curve(c, GRAY, 1.1)));
  chgMid.forEach(c => datasets.push(curve(c, GRAY, 1.1)));

  return new Chart(document.getElementById(canvasId), {
    type: 'line',
    data: { datasets: datasets },
    options: {
      responsive: false,
      animation: false,
      events: [],
      layout: { padding: { top: 6, right: 2, left: 0, bottom: 0 } },
      plugins: {
        legend: { display: false },
        tooltip: { enabled: false }
      },
      scales: {
        x: {
          type: 'linear',
          min: xMin[i],
          max: xMax[i],
          grid: { display: false, drawTicks: false },
          border: { display: false },
          afterBuildTicks: s => { s.ticks = xTickValues.map(v => ({ value: v })); },
          afterFit: s => { s.height = 51; },
          ticks: {
            padding: 7,
            color: INK,
            font: { family: SANS, size: 16.5 },
            maxRotation: 0,
            callback: v => String(v)
          },
          title: {
            display: true,
            text: 'Specific capacity (mAh/g)',
            color: INK,
            font: { family: SANS, size: 20.5 },
            padding: { top: 0, bottom: 0 }
          }
        },
        y: {
          type: 'linear',
          min: yMin,
          max: yMax,
          grid: { display: false, drawTicks: false },
          border: { display: false },
          afterBuildTicks: s => { s.ticks = yTickValues.map(v => ({ value: v })); },
          afterFit: s => { s.width = 70; },
          ticks: {
            padding: 5,
            color: INK,
            font: { family: SANS, size: 16.5 },
            callback: v => Number(v).toFixed(1)
          },
          title: {
            display: true,
            text: 'Voltage (V)',
            color: INK,
            font: { family: SANS, size: 20.5 },
            padding: { top: 0, bottom: 0 }
          }
        }
      }
    },
    plugins: [decor(i)]
  });
}

makePanel(0, 'p1', p1_dis1, p1_chg1, p1_dis500, p1_chg500, p1_disMid, p1_chgMid);
makePanel(1, 'p2', p2_dis1, p2_chg1, p2_dis500, p2_chg500, p2_disMid, p2_chgMid);
makePanel(2, 'p3', p3_dis1, p3_chg1, p3_dis500, p3_chg500, p3_disMid, p3_chgMid);
makePanel(3, 'p4', p4_dis1, p4_chg1, p4_dis500, p4_chg500, p4_disMid, p4_chgMid);
</script>
</body>
</html>
